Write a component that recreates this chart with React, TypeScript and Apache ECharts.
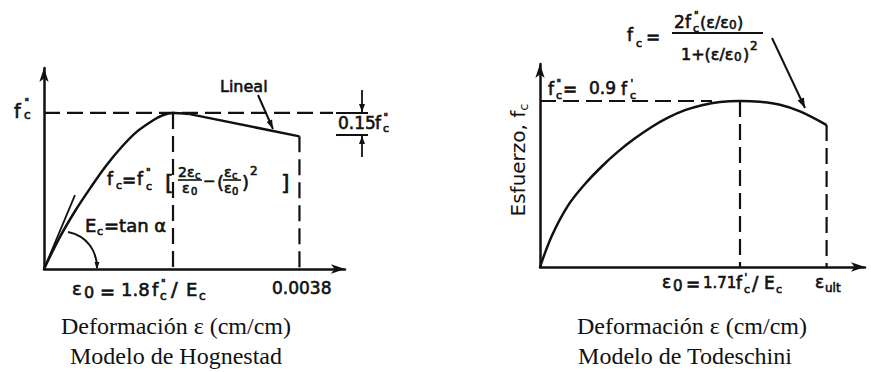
import React, { useEffect, useRef } from 'react';
import * as echarts from 'echarts';

// ---- Hognestad model (strain / ε0 , stress / f''c) ----
const hogRiseStrain = [0, 0.12, 0.24, 0.36, 0.48, 0.6, 0.72, 0.84, 0.92, 1.0, 1.12];
const hogRiseStress = [0, 0.2, 0.37, 0.52, 0.66, 0.78, 0.88, 0.95, 0.985, 1.0, 0.994];
const hogLinearStrain = [1.12, 1.98];
const hogLinearStress = [0.994, 0.85];
const hogTangentStrain = [0, 0.24];
const hogTangentStress = [0, 0.474];
const hogGuideStrain = [1.0, 1.98]; // ε0 , 0.0038
const hogGuideStress = [1.0, 0.85];
const hogPeakLineEnd = 2.24;

// ---- Todeschini model (strain / ε0 , stress / f''c) ----
const todStrain = [0, 0.06, 0.14, 0.225, 0.31, 0.39, 0.475, 0.56, 0.64, 0.725, 0.81, 0.9, 1.0, 1.1, 1.2, 1.3, 1.433];
const todStress = [0, 0.19, 0.37, 0.5, 0.607, 0.695, 0.775, 0.845, 0.9, 0.945, 0.975, 0.994, 1.0, 0.995, 0.977, 0.937, 0.855];
const todGuideStrain = [1.0, 1.433]; // ε0 , εult
const todGuideStress = [1.0, 0.855];
const todPeakLineEnd = 0.86;

const leftCaptions = ['Deformación ε (cm/cm)', 'Modelo de Hognestad'];
const rightCaptions = ['Deformación ε (cm/cm)', 'Modelo de Todeschini'];

const INK = '#111';
const SANS = '"DejaVu Sans", sans-serif';
const SERIF = '"Liberation Serif", serif';

function t(x: number, y: number, text: string, size: number, extra: any = {}) {
  return {
    type: 'text', x, y, silent: true,
    style: {
      text, fill: INK, fontSize: size, fontFamily: SANS, textAlign: 'left', textVerticalAlign: 'middle',
      stroke: INK, lineWidth: 0.6, textStroke: INK, textStrokeWidth: 0.6, ...extra,
    },
  };
}
function seg(x1: number, y1: number, x2: number, y2: number, w = 2) {
  return { type: 'line', silent: true, shape: { x1, y1, x2, y2 }, style: { stroke: INK, lineWidth: w } };
}
function head(x1: number, y1: number, x2: number, y2: number, len = 9, half = 3) {
  const dx = x2 - x1, dy = y2 - y1, L = Math.hypot(dx, dy);
  const ux = dx / L, uy = dy / L;
  const bx = x2 - ux * len, by = y2 - uy * len;
  return {
    type: 'polygon', silent: true,
    shape: { points: [[x2, y2], [bx - uy * half, by + ux * half], [bx + uy * half, by - ux * half]] },
    style: { fill: INK },
  };
}

function zip(xs: number[], ys: number[]) {
  return xs.map((x, i) => [x, ys[i]]);
}

function line(grid: number, data: number[][], extra: any = {}, style: any = {}) {
  return {
    type: 'line', xAxisIndex: grid, yAxisIndex: grid, data, symbol: 'none', showSymbol: false, silent: true,
    lineStyle: { color: INK, width: 2.5, ...style }, ...extra,
  };
}
const DASH = { type: [16, 7], width: 2.2, cap: 'butt' };

export default function App() {
  const ref = useRef<HTMLDivElement>(null);
  useEffect(() => {
    document.body.style.margin = '0';
    const chart = echarts.init(ref.current!, null, { renderer: 'svg' });
    const axisLine = { show: true, onZero: false, symbol: ['none', 'arrow'], symbolSize: [7, 14], lineStyle: { color: INK, width: 2.5 } };
    const hidden = { axisTick: { show: false }, axisLabel: { show: false }, splitLine: { show: false } };
    const cap = { fontFamily: SERIF, textAlign: 'center', lineWidth: 0, stroke: null, textStroke: null, textStrokeWidth: 0 };

    const graphic: any[] = [
      // Left: y label f''c
      t(14, 111, 'f', 19), t(24.5, 102, '"', 10), t(24, 115, 'c', 12),
      // Lineal
      t(220, 86, 'Lineal', 16),
      seg(258, 95, 273, 129, 2), head(258, 95, 273, 129, 9, 3),
      // 0.15 f''c
      seg(336, 113, 368, 113, 2), seg(336, 135, 368, 135, 2),
      seg(362, 90, 362, 112, 1.8), head(362, 90, 362, 112, 8, 3),
      seg(362, 157, 362, 136, 1.8), head(362, 157, 362, 136, 8, 3),
      t(338, 123, '0.15', 17), t(375, 123, 'f', 17), t(383.5, 117, '"', 10), t(383, 128, 'c', 11),
      // Hognestad formula
      t(107, 179, 'f', 17), t(116, 185, 'c', 11), t(122, 180, '=', 17),
      t(137, 179, 'f', 17), t(146, 172, '"', 10), t(146, 186, 'c', 11),
      t(165, 182, '[', 22),
      t(178, 172, '2ε', 14), t(195, 175, 'c', 10), seg(178, 180, 202, 180, 1.6), t(182, 188, 'ε', 14), t(191, 191, '0', 10),
      t(203, 181, '−', 15), t(217, 182, '(', 18),
      t(224, 172, 'ε', 14), t(232, 175, 'c', 10), seg(223, 180, 241, 180, 1.6), t(224, 188, 'ε', 14), t(232, 191, '0', 10),
      t(242, 182, ')', 18), t(250, 171, '2', 12), t(281, 182, ']', 22),
      // Ec = tan α
      t(85, 225, 'E', 18), t(97, 231, 'c', 11), t(104, 225, '=tan α', 18),
      { type: 'bezierCurve', silent: true, shape: { x1: 68, y1: 232, cpx1: 88, cpy1: 236, cpx2: 97, cpy2: 252, x2: 97, y2: 268 }, style: { stroke: INK, lineWidth: 2, fill: 'none' } },
      head(97, 258, 97, 269, 7, 2.5),
      // x labels left
      t(72, 288, 'ε', 18), t(84, 292, '0', 16), t(100, 291, '=', 18), t(121, 289, '1.8', 18),
      t(152, 289, 'f', 18), t(161, 283, '"', 10), t(160, 296, 'c', 12), t(171, 289, '/', 20), t(186, 289, 'E', 18), t(199, 296, 'c', 12),
      t(272, 288, '0.0038', 17),

      // Right: y label
      {
        type: 'text', x: 518, y: 160, rotation: Math.PI / 2, silent: true,
        style: {
          text: '{m|Esfuerzo, f}{s|c}', textAlign: 'center', textVerticalAlign: 'middle',
          rich: {
            m: { fontSize: 20, fontFamily: SANS, fill: INK },
            s: { fontSize: 13, fontFamily: SANS, fill: INK, padding: [10, 0, 0, 0] },
          },
        },
      },
      // f''c = 0.9 f'c
      t(548, 89, 'f', 17), t(556.5, 83, '"', 10), t(556, 95, 'c', 11), t(563, 89, '=', 17), t(589, 88, '0.9', 17),
      t(621, 89, 'f', 17), t(630.5, 83, "'", 10), t(630, 95, 'c', 11),
      // Todeschini formula
      t(627, 35, 'f', 17), t(636, 43, 'c', 11), t(646, 37, '=', 17),
      t(674, 22, '2', 17), t(685, 22, 'f', 17), t(694, 15, '"', 10), t(693, 28, 'c', 11), t(700, 22, '(ε/ε', 16), t(729, 25, '0', 12), t(737, 22, ')', 16),
      seg(672, 33, 763, 33, 1.8),
      t(681, 54, '1+(ε/ε', 16), t(734, 57, '0', 12), t(743, 54, ')', 16), t(750, 46, '2', 12),
      seg(772, 38, 805, 108, 2), head(772, 38, 805, 108, 10, 3.5),
      // x labels right
      t(662, 282, 'ε', 17), t(673, 286, '0', 15), t(686, 284, '=', 17), t(703, 283, '1.71', 15),
      t(736, 283, 'f', 17), t(744.5, 277, "'", 10), t(744, 289, 'c', 11), t(752, 283, '/', 19), t(764, 283, 'E', 17), t(776, 289, 'c', 11),
      t(815, 282, 'ε', 17), t(825, 288, 'ult', 12),

      // captions
      t(176, 326, leftCaptions[0], 24, cap),
      t(176, 356, leftCaptions[1], 24, cap),
      t(692, 326, rightCaptions[0], 24, cap),
      t(685, 356, rightCaptions[1], 24, cap),
    ];

    chart.setOption({
      animation: false,
      backgroundColor: '#fff',
      grid: [
        { left: 44, top: 68, width: 301, height: 201 },
        { left: 540, top: 64, width: 325, height: 203 },
      ],
      xAxis: [
        { type: 'value', gridIndex: 0, min: 0, max: 2.333, axisLine, ...hidden },
        { type: 'value', gridIndex: 1, min: 0, max: 1.625, axisLine, ...hidden },
      ],
      yAxis: [
        { type: 'value', gridIndex: 0, min: 0, max: 1.288, axisLine, ...hidden },
        { type: 'value', gridIndex: 1, min: 0, max: 1.223, axisLine, ...hidden },
      ],
      series: [
        line(0, [[0, hogGuideStress[0]], [hogPeakLineEnd, hogGuideStress[0]]], {}, DASH),
        line(0, [[hogGuideStrain[0], hogGuideStress[0]], [hogGuideStrain[0], 0]], {}, DASH),
        line(0, [[hogGuideStrain[1], hogGuideStress[1]], [hogGuideStrain[1], 0]], {}, DASH),
        line(0, zip(hogRiseStrain, hogRiseStress), { smooth: 0.35 }),
        line(0, zip(hogLinearStrain, hogLinearStress)),
        line(0, zip(hogTangentStrain, hogTangentStress), {}, { width: 1.8 }),
        line(1, [[0, todGuideStress[0]], [todPeakLineEnd, todGuideStress[0]]], {}, DASH),
        line(1, [[todGuideStrain[0], todGuideStress[0]], [todGuideStrain[0], 0]], {}, DASH),
        line(1, [[todGuideStrain[1], todGuideStress[1]], [todGuideStrain[1], 0]], {}, DASH),
        line(1, zip(todStrain, todStress), { smooth: 0.35 }),
      ],
      graphic,
    });
    return () => chart.dispose();
  }, []);
  return <div ref={ref} style={{ position: 'fixed', left: 0, top: 0, width: 872, height: 372 }} />;
}
